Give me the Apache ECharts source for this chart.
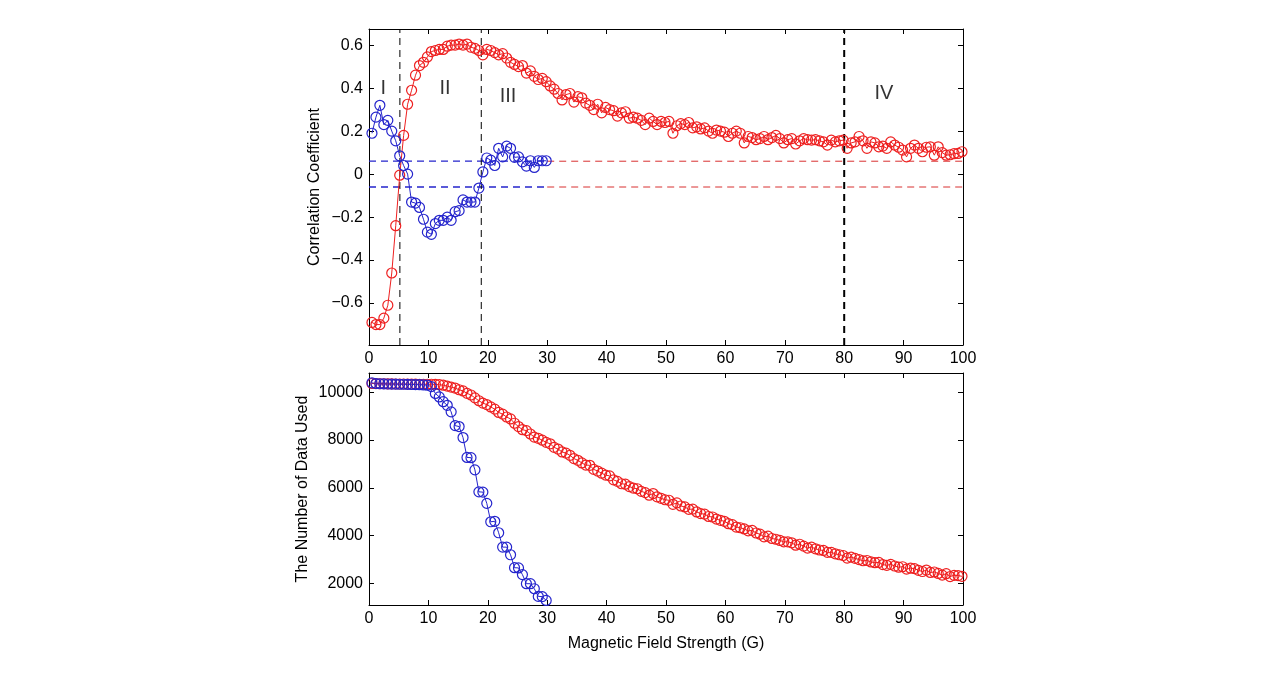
<!DOCTYPE html>
<html>
<head>
<meta charset="utf-8">
<title>Correlation coefficient vs magnetic field strength</title>
<script src="https://cdn.jsdelivr.net/npm/echarts@6/dist/echarts.min.js"></script>
<style>
  html, body { margin: 0; padding: 0; background: #fff; }
  #chart { width: 1269px; height: 682px; }
</style>
</head>
<body>
<div id="chart"></div>
<script>
// field strength (G) of every sample
var fieldStrength = [
  0.5, 1.17, 1.83, 2.5, 3.17, 3.83, 4.5, 5.17, 5.83, 6.5, 7.17, 7.83, 8.5, 9.17, 9.83,
  10.5, 11.17, 11.83, 12.5, 13.17, 13.83, 14.5, 15.17, 15.83, 16.5, 17.17, 17.83, 18.5, 19.17, 19.83,
  20.5, 21.17, 21.83, 22.5, 23.17, 23.83, 24.5, 25.17, 25.83, 26.5, 27.17, 27.83, 28.5, 29.17, 29.83,
  30.5, 31.17, 31.83, 32.5, 33.17, 33.83, 34.5, 35.17, 35.83, 36.5, 37.17, 37.83, 38.5, 39.17, 39.83,
  40.5, 41.17, 41.83, 42.5, 43.17, 43.83, 44.5, 45.17, 45.83, 46.5, 47.17, 47.83, 48.5, 49.17, 49.83,
  50.5, 51.17, 51.83, 52.5, 53.17, 53.83, 54.5, 55.17, 55.83, 56.5, 57.17, 57.83, 58.5, 59.17, 59.83,
  60.5, 61.17, 61.83, 62.5, 63.17, 63.83, 64.5, 65.17, 65.83, 66.5, 67.17, 67.83, 68.5, 69.17, 69.83,
  70.5, 71.17, 71.83, 72.5, 73.17, 73.83, 74.5, 75.17, 75.83, 76.5, 77.17, 77.83, 78.5, 79.17, 79.83,
  80.5, 81.17, 81.83, 82.5, 83.17, 83.83, 84.5, 85.17, 85.83, 86.5, 87.17, 87.83, 88.5, 89.17, 89.83,
  90.5, 91.17, 91.83, 92.5, 93.17, 93.83, 94.5, 95.17, 95.83, 96.5, 97.17, 97.83, 98.5, 99.17, 99.83
];

// upper panel: correlation coefficient
var corrRed = [
  -0.69, -0.70, -0.70, -0.67, -0.61, -0.46, -0.24, -0.005, 0.18, 0.325, 0.39, 0.46, 0.505, 0.52, 0.545,
  0.57, 0.575, 0.58, 0.58, 0.595, 0.60, 0.60, 0.605, 0.60, 0.605, 0.59, 0.585, 0.575, 0.555, 0.58,
  0.575, 0.565, 0.555, 0.56, 0.54, 0.52, 0.51, 0.50, 0.505, 0.47, 0.48, 0.455, 0.44, 0.445, 0.43,
  0.41, 0.395, 0.375, 0.345, 0.37, 0.375, 0.335, 0.36, 0.355, 0.33, 0.32, 0.30, 0.325, 0.285, 0.31,
  0.30, 0.295, 0.27, 0.285, 0.29, 0.26, 0.265, 0.26, 0.25, 0.23, 0.26, 0.245, 0.23, 0.245, 0.24,
  0.245, 0.19, 0.225, 0.235, 0.23, 0.24, 0.215, 0.22, 0.21, 0.215, 0.20, 0.19, 0.205, 0.20, 0.195,
  0.175, 0.19, 0.20, 0.19, 0.145, 0.175, 0.17, 0.16, 0.165, 0.175, 0.16, 0.17, 0.18, 0.165, 0.145,
  0.16, 0.165, 0.14, 0.155, 0.165, 0.16, 0.158, 0.16, 0.155, 0.15, 0.135, 0.158, 0.15, 0.155, 0.158,
  0.12, 0.145, 0.15, 0.175, 0.155, 0.12, 0.15, 0.145, 0.127, 0.13, 0.12, 0.15, 0.135, 0.125, 0.112,
  0.08, 0.12, 0.135, 0.12, 0.104, 0.125, 0.127, 0.088, 0.127, 0.10, 0.088, 0.09, 0.095, 0.096, 0.104
];
var corrBlue = [
  0.19, 0.265, 0.32, 0.23, 0.25, 0.20, 0.155, 0.085, 0.04, 0.0, -0.13, -0.135, -0.155, -0.21, -0.27,
  -0.28, -0.23, -0.215, -0.215, -0.20, -0.215, -0.175, -0.17, -0.12, -0.13, -0.13, -0.13, -0.065, 0.01, 0.075,
  0.065, 0.04, 0.12, 0.08, 0.13, 0.12, 0.078, 0.08, 0.057, 0.037, 0.062, 0.031, 0.062, 0.062, 0.062
];

// lower panel: number of data used
var countRed = [
  10360, 10355, 10350, 10350, 10345, 10345, 10340, 10340, 10340, 10335, 10335, 10335, 10330, 10330, 10330,
  10330, 10325, 10310, 10290, 10250, 10210, 10170, 10100, 10050, 9950, 9880, 9760, 9640, 9540, 9480,
  9380, 9290, 9150, 9080, 8960, 8880, 8700, 8560, 8430, 8390, 8250, 8120, 8070, 7990, 7900,
  7840, 7690, 7620, 7500, 7450, 7360, 7220, 7150, 7040, 6950, 6940, 6770, 6700, 6610, 6530,
  6500, 6330, 6270, 6170, 6150, 6050, 5990, 5960, 5850, 5800, 5690, 5760, 5620, 5560, 5500,
  5480, 5310, 5370, 5240, 5200, 5100, 5110, 4990, 4920, 4900, 4800, 4780, 4690, 4640, 4600,
  4500, 4460, 4360, 4330, 4280, 4200, 4220, 4110, 4060, 3950, 3980, 3880, 3850, 3800, 3740,
  3740, 3700, 3600, 3640, 3560, 3480, 3520, 3450, 3400, 3380, 3300, 3300, 3240, 3200, 3170,
  3060, 3100, 3050, 3000, 2950, 2960, 2900, 2870, 2880, 2790, 2760, 2800, 2730, 2680, 2700,
  2600, 2640, 2620, 2550, 2500, 2560, 2460, 2480, 2420, 2350, 2410, 2290, 2340, 2330, 2300
];
var countBlue = [
  10390, 10360, 10350, 10345, 10340, 10335, 10335, 10330, 10330, 10325, 10320, 10315, 10310, 10300, 10290,
  10230, 9945, 9800, 9600, 9450, 9175, 8600, 8560, 8100, 7270, 7260, 6750, 5830, 5820, 5350,
  4580, 4600, 4120, 3520, 3520, 3200, 2660, 2650, 2370, 1990, 1990, 1780, 1460, 1450, 1290
];

// significance levels, region borders and names
var sigLevels = [0.06, -0.06];
var blueRange = [0, 30];
var redRange = [30, 100];
var regionBorders = [5.2, 18.9, 80];
var regionNames = ['I', 'II', 'III', 'IV'];
var regionX = [2.4, 12.8, 23.4, 86.7];
var regionY = [0.4, 0.4, 0.36, 0.375];

// tick labels
var fieldTicks = [0, 10, 20, 30, 40, 50, 60, 70, 80, 90, 100];
var corrTicks = [-0.6, -0.4, -0.2, 0, 0.2, 0.4, 0.6];
var countTicks = [2000, 4000, 6000, 8000, 10000];

var RED = '#ee2020';
var BLUE = '#2424cc';
var FONT = 'Liberation Sans';
var CORR_MIN = -0.795, CORR_MAX = 0.675;

function zip(xs, ys) {
  return ys.map(function (y, i) { return [xs[i], y]; });
}

function xAxisFor(gridIndex, position, showLabels, extra) {
  var axis = {
    type: 'value', gridIndex: gridIndex, position: position,
    min: 0, max: 100, interval: 10,
    axisLine: { show: true, onZero: false, lineStyle: { color: '#000', width: 1 } },
    axisTick: { show: true, inside: true, length: 5, lineStyle: { color: '#000' } },
    axisLabel: { show: showLabels, color: '#000', fontSize: 16, fontFamily: FONT, margin: 6 },
    splitLine: { show: false }
  };
  return Object.assign(axis, extra || {});
}

function yAxisFor(gridIndex, position, showLabels, min, max, ticks, extra) {
  var axis = {
    type: 'value', gridIndex: gridIndex, position: position,
    min: min, max: max,
    axisLine: { show: true, onZero: false, lineStyle: { color: '#000', width: 1 } },
    axisTick: { show: true, inside: true, length: 5, customValues: ticks, lineStyle: { color: '#000' } },
    axisLabel: {
      show: showLabels, customValues: ticks, color: '#000', fontSize: 16, fontFamily: FONT, margin: 6,
      formatter: function (v) { return String(v).replace('-', '\u2212'); }
    },
    splitLine: { show: false }
  };
  return Object.assign(axis, extra || {});
}

function markerSeries(name, xIdx, yIdx, data, color) {
  return {
    name: name, type: 'line', xAxisIndex: xIdx, yAxisIndex: yIdx, data: data,
    symbol: 'circle', symbolSize: 10, showAllSymbol: true,
    lineStyle: { color: color, width: 1 },
    itemStyle: { color: 'rgba(0,0,0,0)', borderColor: color, borderWidth: 1.2 },
    z: 5
  };
}

function dashSeries(data, color, width) {
  return {
    type: 'line', xAxisIndex: 0, yAxisIndex: 0, data: data, symbol: 'none',
    lineStyle: { color: color, width: width, type: [7, 5] }, z: 3, silent: true
  };
}

var chart = echarts.init(document.getElementById('chart'));

var series = [
  markerSeries('corr red', 0, 0, zip(fieldStrength, corrRed), RED),
  markerSeries('corr blue', 0, 0, zip(fieldStrength, corrBlue), BLUE),
  markerSeries('count red', 2, 2, zip(fieldStrength, countRed), RED),
  markerSeries('count blue', 2, 2, zip(fieldStrength, countBlue), BLUE)
];

sigLevels.forEach(function (lvl) {
  series.push(dashSeries([[blueRange[0], lvl], [blueRange[1], lvl]], BLUE, 1.3));
  series.push(dashSeries([[redRange[0], lvl], [redRange[1], lvl]], '#d83030', 1));
});

regionBorders.forEach(function (b, i) {
  series.push(dashSeries([[b, CORR_MIN], [b, CORR_MAX]], '#000', i === 2 ? 2 : 1));
});

series.push({
  type: 'scatter', xAxisIndex: 0, yAxisIndex: 0, symbolSize: 0, silent: true,
  data: regionNames.map(function (n, i) { return { name: n, value: [regionX[i], regionY[i]] }; }),
  label: {
    show: true, position: 'inside', formatter: '{b}',
    color: '#000', fontSize: 20, fontFamily: FONT
  },
  z: 6
});

var option = {
  animation: false,
  backgroundColor: '#fff',
  grid: [
    { left: 369, top: 29, width: 594, height: 316 },
    { left: 369, top: 373, width: 594, height: 232 }
  ],
  xAxis: [
    xAxisFor(0, 'bottom', true),
    xAxisFor(0, 'top', false),
    xAxisFor(1, 'bottom', true, {
      name: 'Magnetic Field Strength (G)', nameLocation: 'middle', nameGap: 31,
      nameTextStyle: { color: '#000', fontSize: 16, fontFamily: FONT }
    }),
    xAxisFor(1, 'top', false)
  ],
  yAxis: [
    yAxisFor(0, 'left', true, CORR_MIN, CORR_MAX, corrTicks, {
      name: 'Correlation Coefficient', nameLocation: 'middle', nameGap: 46,
      nameTextStyle: { color: '#000', fontSize: 16, fontFamily: FONT }
    }),
    yAxisFor(0, 'right', false, CORR_MIN, CORR_MAX, corrTicks),
    yAxisFor(1, 'left', true, 1100, 10800, countTicks, {
      name: 'The Number of Data Used', nameLocation: 'middle', nameGap: 58,
      nameTextStyle: { color: '#000', fontSize: 16, fontFamily: FONT }
    }),
    yAxisFor(1, 'right', false, 1100, 10800, countTicks)
  ],
  series: series
};

chart.setOption(option);
</script>
</body>
</html>
